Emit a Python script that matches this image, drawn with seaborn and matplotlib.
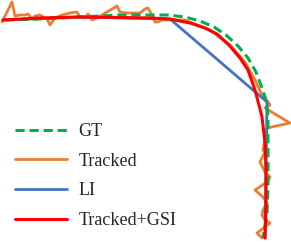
import matplotlib
matplotlib.use("Agg")
import matplotlib.pyplot as plt
import pandas as pd
import seaborn as sns

# trajectories (pixel-like units, y grows downward)
gt_x = [5, 40, 80, 120, 150, 168, 185, 200, 214, 226, 238, 248, 256, 262, 266, 268, 268, 268, 267, 263]
gt_y = [20, 19, 17, 15, 15, 15, 17, 21, 27, 35, 46, 58, 72, 88, 100, 115, 150, 185, 215, 238]

tr_x = [2, 12, 15, 20, 25, 28, 32, 35, 40, 47, 50, 55, 62, 70, 77, 80, 85, 88, 92, 97, 107, 117, 120,
        127, 140, 145, 148, 152, 155, 158, 162, 185, 210, 230, 245, 255, 262, 268, 270, 265, 290, 267,
        265, 263, 265, 260, 263, 265, 270, 267, 255, 263, 267, 263, 262, 265, 270, 257, 262]
tr_y = [22, 2, 16, 15, 15, 14, 19, 16, 15, 19, 25, 18, 15, 13, 12, 17, 18, 14, 20, 18, 12, 6, 12,
        13, 13, 9, 8, 15, 22, 22, 20, 20, 30, 45, 62, 80, 95, 102, 105, 108, 123, 128,
        140, 150, 152, 162, 168, 172, 177, 182, 190, 197, 203, 210, 215, 220, 223, 233, 238]

li_x = [3, 80, 170, 267, 266, 265]
li_y = [20, 17, 19, 102, 170, 238]

gsi_x = [3, 40, 80, 120, 150, 170, 190, 205, 217, 229, 240, 248, 255, 259, 262, 265, 266, 266, 265]
gsi_y = [20, 18, 17, 17.5, 18, 19, 23, 28, 34, 45, 58, 70, 90, 105, 117, 143, 170, 205, 238]

labels = ['GT', 'Tracked', 'LI', 'Tracked+GSI']
colors = ['#00B050', '#ED7D31', '#4472C4', '#FF0000']

sns.set_style('white')
plt.rcParams['font.family'] = ['Liberation Serif', 'DejaVu Serif']

fig = plt.figure(figsize=(2.91, 2.42), dpi=100)
ax = fig.add_axes([0, 0, 1, 1])

tr = pd.DataFrame({'x': tr_x, 'y': tr_y})
li = pd.DataFrame({'x': li_x, 'y': li_y})
gt = pd.DataFrame({'x': gt_x, 'y': gt_y})
gsi = pd.DataFrame({'x': gsi_x, 'y': gsi_y})

kw = dict(x='x', y='y', sort=False, estimator=None, ax=ax)
sns.lineplot(data=tr, color=colors[1], lw=2.0, label=labels[1], **kw)
sns.lineplot(data=li, color=colors[2], lw=2.0, label=labels[2], **kw)
sns.lineplot(data=gt, color=colors[0], lw=2.2, label=labels[0], **kw)
ax.lines[-1].set_dashes([3, 1.6])
sns.lineplot(data=gsi, color=colors[3], lw=2.2, label=labels[3], **kw)

ax.set_xlim(0, 291)
ax.set_ylim(242, 0)
ax.set_axis_off()

h, l = ax.get_legend_handles_labels()
order = [l.index(k) for k in labels]
ax.legend([h[i] for i in order], [l[i] for i in order], loc='upper left',
          bbox_to_anchor=(15 / 291, 1 - 123 / 242), frameon=False, fontsize=13,
          handlelength=2.9, handletextpad=0.6, labelspacing=0.7, borderpad=0, borderaxespad=0)

fig.savefig('out.png', dpi=100)
